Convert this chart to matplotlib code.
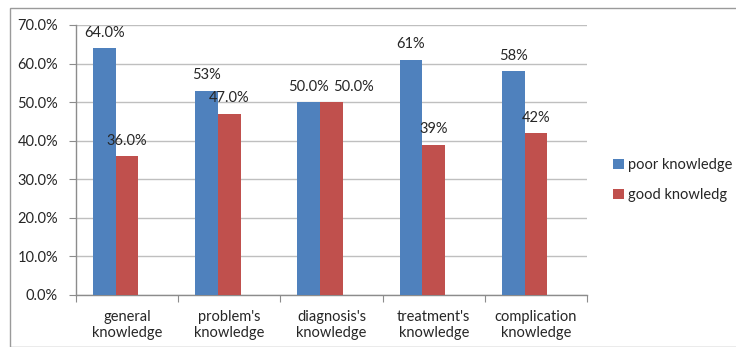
import matplotlib
matplotlib.use("Agg")
import matplotlib.pyplot as plt
from matplotlib.patches import Rectangle, Patch
import numpy as np

categories = ["general\nknowledge", "problem's\nknowledge", "diagnosis's\nknowledge",
              "treatment's\nknowledge", "complication\nknowledge"]
poor = [64.0, 53.0, 50.0, 61.0, 58.0]
good = [36.0, 47.0, 50.0, 39.0, 42.0]
poor_labels = ["64.0%", "53%", "50.0%", "61%", "58%"]
good_labels = ["36.0%", "47.0%", "50.0%", "39%", "42%"]
series_names = ["poor knowledge", "good knowledg"]
yticks = [0, 10, 20, 30, 40, 50, 60, 70]

plt.rcParams["font.family"] = ["Lato", "DejaVu Sans"]
BLUE = "#4F81BD"
RED = "#C0504D"
GRID = "#BFBFBF"
TEXT = "#262626"
FS = 10.5

W, H = 736, 347
fig = plt.figure(figsize=(W / 100, H / 100), dpi=100)

# outer chart frame
fig.patches.append(Rectangle((10 / W, 0), 2.0, 1 - 8 / H, transform=fig.transFigure,
                             fill=False, edgecolor="#9A9A9A", linewidth=1.0))

ax = fig.add_axes([76 / W, 1 - 295 / H, (587 - 76) / W, (295 - 25) / H])

x = np.arange(len(categories))
w = 1 / 4.5
ax.bar(x - w, poor, width=w, color=BLUE, zorder=3)
ax.bar(x, good, width=w, color=RED, zorder=3)

LIFT = 11  # points above bar top (label centre)
for xi, v, s in zip(x - w, poor, poor_labels):
    ax.annotate(s, (xi, v), xytext=(0, LIFT), textcoords="offset points",
                ha="center", va="center", fontsize=FS, color=TEXT, zorder=4)
for xi, v, pv, s in zip(x, good, poor, good_labels):
    # push the label sideways when it sits level with its neighbour's label
    dx = 16 if abs(v - pv) < 3 else 0
    ax.annotate(s, (xi, v), xytext=(dx, LIFT), textcoords="offset points",
                ha="center", va="center", fontsize=FS, color=TEXT, zorder=4)

ax.set_xlim(-0.5, len(categories) - 0.5)
ax.set_ylim(0, 70)
ax.set_yticks(yticks)
ax.set_yticklabels([f"{t:.1f}%" for t in yticks], fontsize=FS, color=TEXT)
ax.yaxis.grid(True, color=GRID, linewidth=1.0, zorder=0)
ax.set_axisbelow(True)

ax.set_xticks(np.arange(-0.5, len(categories), 1.0))
ax.set_xticklabels([])
ax.set_xticks(x, minor=True)
ax.set_xticklabels(categories, minor=True, fontsize=FS, color=TEXT, linespacing=1.2)
ax.tick_params(axis="x", which="minor", length=0, pad=11)
ax.tick_params(axis="x", which="major", length=5, color="#8C8C8C", direction="out")
ax.tick_params(axis="y", length=5, color="#8C8C8C", direction="out", pad=8)

for side in ["top", "right"]:
    ax.spines[side].set_visible(False)
for side in ["left", "bottom"]:
    ax.spines[side].set_color("#8C8C8C")
    ax.spines[side].set_linewidth(1.0)

handles = [Patch(facecolor=BLUE), Patch(facecolor=RED)]
fig.legend(handles, series_names, loc="center left", bbox_to_anchor=(600 / W, 1 - 180 / H),
           frameon=False, fontsize=FS, handlelength=0.75, handleheight=0.75,
           handletextpad=0.3, labelspacing=1.1, labelcolor=TEXT)

fig.savefig("out.png", dpi=100)
